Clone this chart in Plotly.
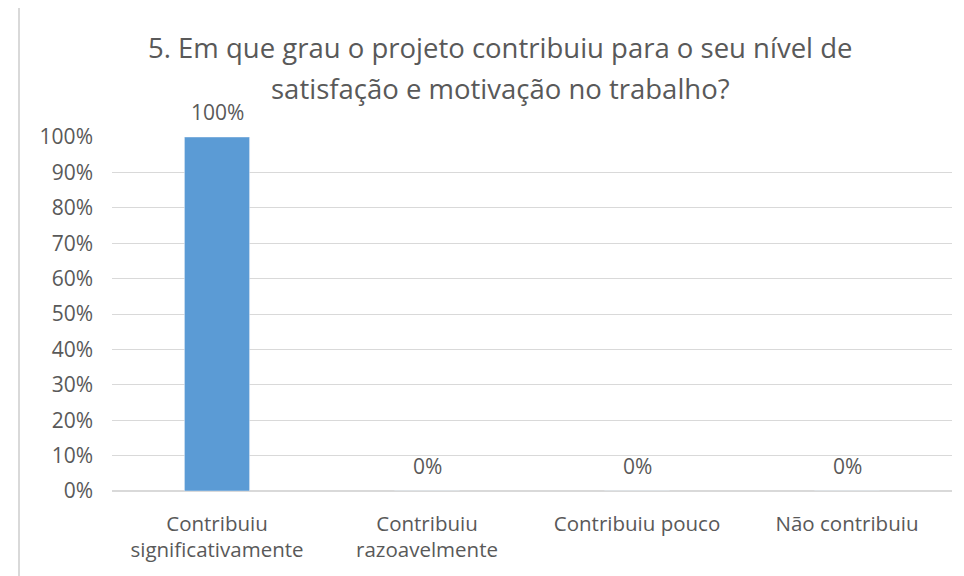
"""
Survey chart: question 5, contribution of the project to job satisfaction.
"""

import plotly.graph_objects as go

# Data
categories = [
    "Contribuiu<br>significativamente",
    "Contribuiu<br>razoavelmente",
    "Contribuiu pouco",
    "Não contribuiu",
]
values = [1.0, 0.0, 0.0, 0.0]
value_labels = ["100%", "0%", "0%", "0%"]
y_ticks = [0, 0.1, 0.2, 0.3, 0.4, 0.5, 0.6, 0.7, 0.8, 0.9, 1.0]
y_tick_labels = ["0%", "10%", "20%", "30%", "40%", "50%", "60%", "70%", "80%", "90%", "100%"]
title_lines = [
    "5. Em que grau o projeto contribuiu para o seu nível de",
    "satisfação e motivação no trabalho?",
]

text_color = "#595959"
grid_color = "#D9D9D9"
font_family = "Open Sans, Noto Sans, sans-serif"

# page has an 8px body margin, so target pixel positions are shifted by it
OFF = 8
W, H = 964, 576
left, top = 112 - OFF, 137 - OFF
right = W - (952 - OFF)
bottom = H - (491 - OFF)
plot_w = W - left - right
plot_h = H - top - bottom


def px_to_paper_x(px):
    return (px - OFF - left) / plot_w


def px_to_paper_y(py):
    return (H - bottom - (py - OFF)) / plot_h


fig = go.Figure()

fig.add_trace(go.Bar(
    x=categories,
    y=values,
    marker_color="#5B9BD5",
    width=0.31,
    hoverinfo="skip",
))

# data labels above each bar
for cat, val, lab in zip(categories, values, value_labels):
    fig.add_annotation(
        x=cat, y=val, text=lab,
        showarrow=False, yanchor="middle", yshift=25,
        font=dict(size=21, color=text_color, family=font_family),
    )

# two-line title, centred on the chart box
for line, ypx in zip(title_lines, [48, 88]):
    fig.add_annotation(
        text=line, xref="paper", yref="paper",
        x=px_to_paper_x(500), y=px_to_paper_y(ypx),
        xanchor="center", yanchor="middle", showarrow=False,
        font=dict(size=27.5, color=text_color, family=font_family),
    )

# chart border (only left and top edges are in view)
fig.add_shape(
    type="rect", xref="paper", yref="paper",
    x0=px_to_paper_x(19), x1=1.2,
    y0=-0.5, y1=px_to_paper_y(5),
    line=dict(color=grid_color, width=2),
    fillcolor="rgba(0,0,0,0)", layer="below",
)

fig.update_layout(
    width=W, height=H,
    margin=dict(l=left, r=right, t=top, b=bottom),
    plot_bgcolor="white",
    paper_bgcolor="white",
    showlegend=False,
    font=dict(family=font_family, color=text_color, size=20.5),
)

fig.update_xaxes(
    showgrid=False, showline=False, zeroline=False,
    tickfont=dict(size=20.5, color=text_color),
    ticklabelstandoff=18,
    fixedrange=True,
)
fig.update_yaxes(
    range=[0, 1.0], tickvals=y_ticks, ticktext=y_tick_labels,
    showgrid=True, gridcolor=grid_color, gridwidth=1,
    zeroline=True, zerolinecolor=grid_color, zerolinewidth=2,
    showline=False,
    tickfont=dict(size=21, color=text_color),
    ticklabelstandoff=18,
    fixedrange=True,
)

fig.write_html("out.html")
